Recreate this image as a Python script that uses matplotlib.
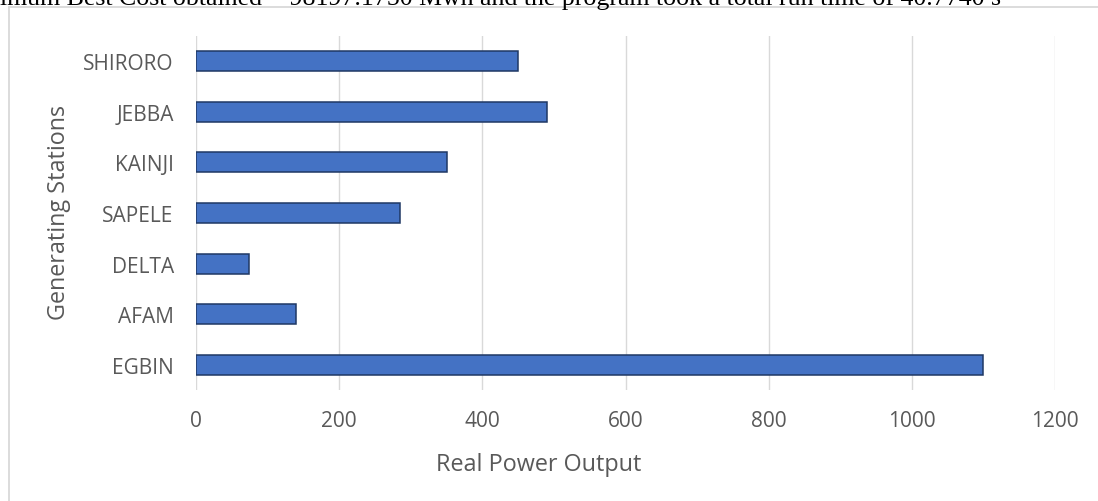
import matplotlib
matplotlib.use("Agg")
import matplotlib.pyplot as plt
from matplotlib.lines import Line2D

# Generating stations and their real power output
stations = ["EGBIN", "AFAM", "DELTA", "SAPELE", "KAINJI", "JEBBA", "SHIRORO"]
power_output = [1100, 140, 74, 285, 350, 490, 450]
x_ticks = [0, 200, 400, 600, 800, 1000, 1200]

caption = ("imum Best Cost obtained = 98197.1750 Mwh and the program took "
           "a total run time of 40.7740 s")

W, H = 1098, 502
fig = plt.figure(figsize=(W / 100, H / 100), dpi=100)
fig.patch.set_facecolor("white")

FONT = "Open Sans"
TXT = "#595959"
GRID = "#d9d9d9"

# chart frame
fig.add_artist(Line2D([9 / W, 1.0], [1 - 8 / H] * 2, color=GRID, lw=1.3))
fig.add_artist(Line2D([9 / W] * 2, [1 - 8 / H, 0.0], color=GRID, lw=1.3))

# sentence above the chart, running off the top edge
fig.text(0.0, 1 - 5 / H, caption, family="Liberation Serif", fontsize=18.6,
         color="black", ha="left", va="baseline")

left, right, top, bottom = 196, 1055, 36.6, 391.4
ax = fig.add_axes([left / W, 1 - bottom / H, (right - left) / W, (bottom - top) / H])

ypos = range(len(stations))
ax.barh(ypos, power_output, height=0.39, color="#4472C4",
        edgecolor="#1F3864", linewidth=1.1, zorder=3)

ax.set_xlim(0, 1200)
ax.set_ylim(-0.5, len(stations) - 0.5)
ax.set_xticks(x_ticks)
ax.set_xticklabels([str(t) for t in x_ticks])
ax.set_yticks(list(ypos))
ax.set_yticklabels(stations)

for s in ax.spines.values():
    s.set_visible(False)
ax.grid(axis="x", color=GRID, lw=1.0, zorder=0)
ax.tick_params(axis="both", length=0, labelcolor=TXT, labelsize=15)
ax.tick_params(axis="x", pad=14)
ax.tick_params(axis="y", pad=16)
for lab in ax.get_xticklabels() + ax.get_yticklabels():
    lab.set_family(FONT)

fig.text(539 / W, 1 - 465 / H, "Real Power Output", family=FONT, fontsize=16.8,
         color=TXT, ha="center", va="center")
fig.text(59 / W, 1 - 213 / H, "Generating Stations", family=FONT, fontsize=16.8,
         color=TXT, ha="center", va="center", rotation=90)

fig.savefig("out.png", dpi=100, facecolor="white")
